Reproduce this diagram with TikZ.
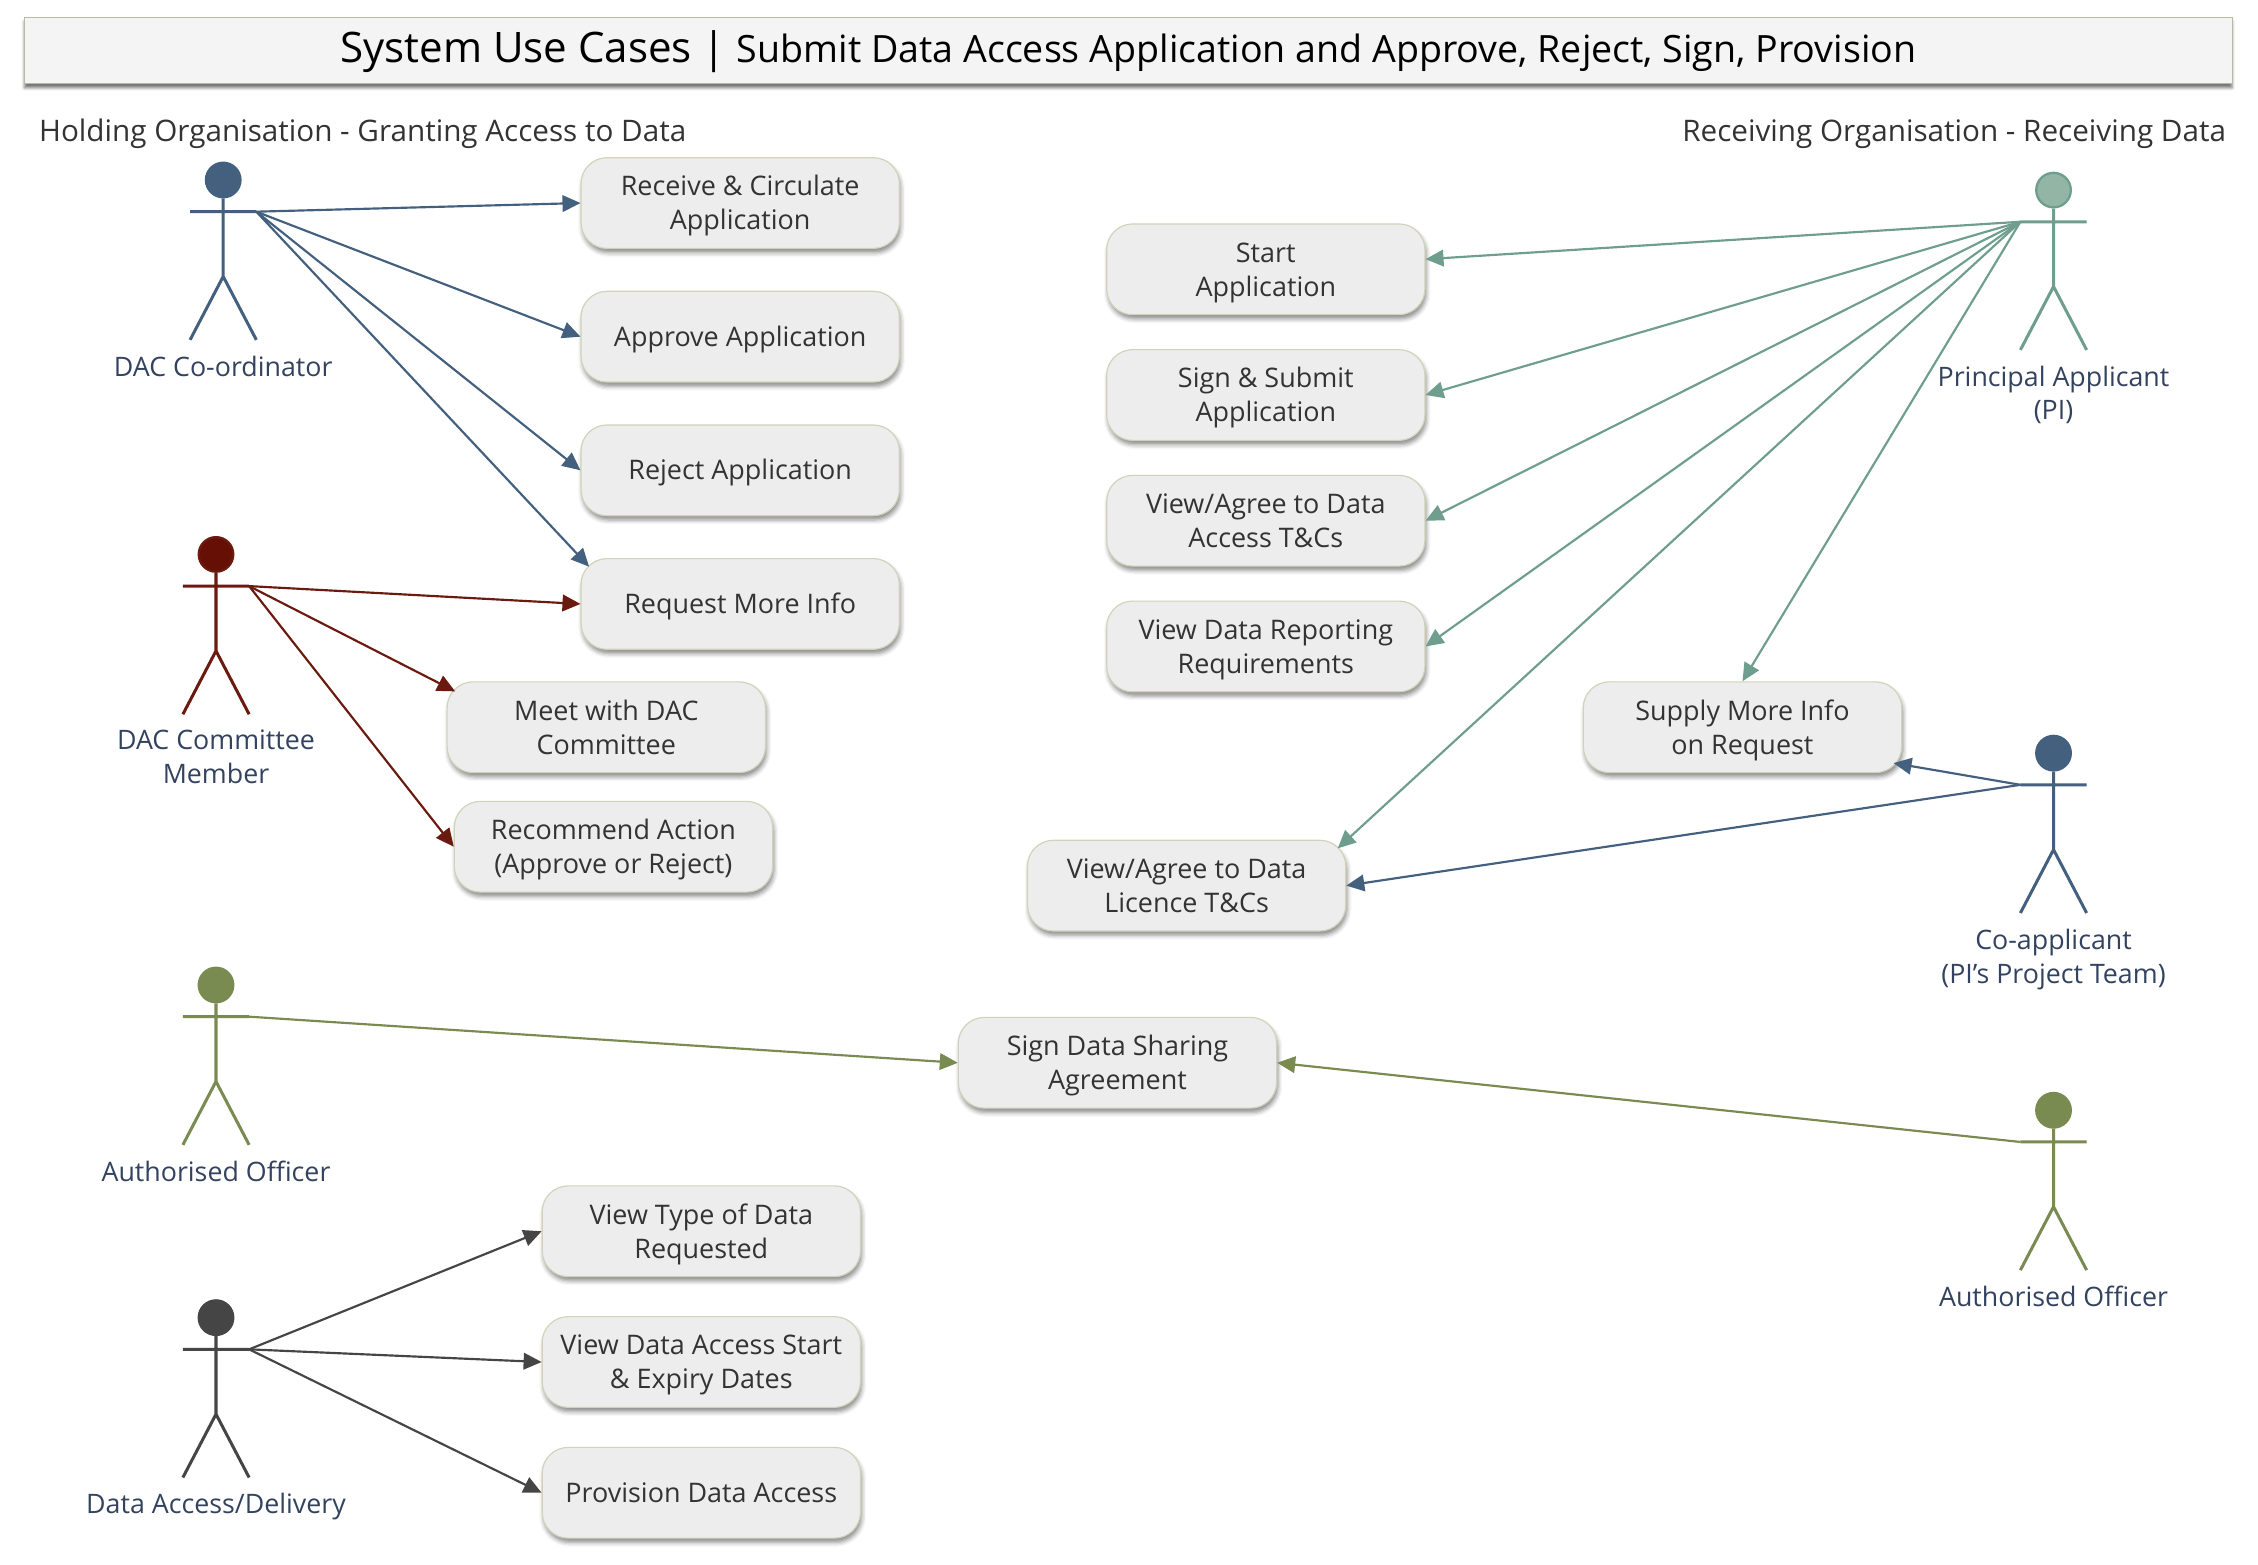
\documentclass[tikz,border=0pt]{standalone}
\usepackage{fontspec}
\setmainfont{Open Sans}
\usetikzlibrary{arrows.meta,positioning,calc,shadows.blur}
\definecolor{coordblue}{HTML}{44607F}
\definecolor{redline}{HTML}{6B1A10}
\definecolor{redhead}{HTML}{660F04}
\definecolor{greenline}{HTML}{6F9E8E}
\definecolor{greenhead}{HTML}{93B5A6}
\definecolor{oliveline}{HTML}{7A8B52}
\definecolor{darkline}{HTML}{454545}
\definecolor{coappblue}{HTML}{44607F}
\definecolor{boxfill}{HTML}{EDEDED}
\definecolor{boxedge}{HTML}{D2D2BA}
\definecolor{actortext}{HTML}{33435F}
\definecolor{boxtext}{HTML}{333333}
\tikzset{
	casebox/.style={
		rectangle,
		rounded corners=18pt,
		draw=boxedge,
		thick,
		fill=boxfill,
		text=boxtext,
		minimum width=221pt,
		minimum height=63pt,
		align=center,
		font=\fontsize{18.7}{23.5}\selectfont,
		execute at end node={\rule[-4.5pt]{0pt}{0pt}},
		blur shadow={shadow xshift=1pt,shadow yshift=-3pt,shadow blur radius=3pt,shadow opacity=45},
	},
	usecase/.style={
		casebox,
		execute at begin node={\rule{0pt}{41.7pt}},
	},
	shortcase/.style={
		casebox,
		execute at begin node={\rule{0pt}{17.5pt}},
	},
	actorlabel/.style={
		text=actortext,
		align=center,
		inner sep=0pt,
		font=\fontsize{18.6}{23.5}\selectfont,
	},
	heading/.style={
		text=boxtext,
		inner sep=0pt,
		font=\fontsize{20.6}{25}\selectfont,
	},
	titlebar/.style={
		rectangle,
		draw=boxedge!70!gray,
		thick,
		fill=boxfill!60!white,
		minimum width=1533pt,
		minimum height=46pt,
		blur shadow={shadow xshift=0pt,shadow yshift=-3pt,shadow blur radius=2pt,shadow opacity=55},
	},
	arc/.style={-{Triangle[length=12.5pt,width=11.5pt]},line width=1.5pt},
	pics/actor/.style 2 args={
		code={
			\node [circle,draw=#1,fill=#2,line width=1.6pt,inner sep=0pt,minimum size=24pt] (-head) at (0,0) {};
			\coordinate (-lhand) at (-23,22);
			\coordinate (-hand) at (23,22);
			\coordinate (-hip) at (0,67);
			\coordinate (-lfoot) at (-23,111);
			\coordinate (-rfoot) at (23,111);
			\coordinate (-feet) at (0,111);
			\draw [#1,line width=2.1pt] (-head) -- (-hip) (-lhand) -- (-hand) (-lfoot) -- (-hip) -- (-rfoot);
		}
	},
}
\begin{document}
\begin{tikzpicture}[x=1pt, y=-1pt, node distance=29pt, >=stealth]
	\useasboundingbox (0,0) rectangle (1568,1086.1);
	% title
	\node [titlebar] (title) at (783.5,35) {};
	\node [text=black, inner sep=0pt] (titletext) at (783.5,36) {\fontsize{29.2}{36}\selectfont System Use Cases | \fontsize{26.1}{36}\selectfont Submit Data Access Application and Approve, Reject, Sign, Provision};
	\node [heading, anchor=west] (holding) at (27,93) {Holding Organisation - Granting Access to Data};
	\node [heading, anchor=east] (receiving) at (1546,93) {Receiving Organisation - Receiving Data};

	% actors
	\pic (coord) at (155,125) {actor={coordblue}{coordblue}};
	\pic (member) at (150,385) {actor={redline}{redhead}};
	\pic (officerA) at (150,684) {actor={oliveline}{oliveline}};
	\pic (delivery) at (150,915) {actor={darkline}{darkline}};
	\pic (pi) at (1426,132) {actor={greenline}{greenhead}};
	\pic (coapp) at (1426,523) {actor={coappblue}{coappblue}};
	\pic (officerB) at (1426,771) {actor={oliveline}{oliveline}};

	\node [actorlabel] (coord-label) [below=10.8pt of coord-feet] {DAC Co-ordinator};
	\node [actorlabel] (member-label) [below=10.8pt of member-feet] {DAC Committee\\Member};
	\node [actorlabel] (officerA-label) [below=10.8pt of officerA-feet] {Authorised Officer};
	\node [actorlabel] (delivery-label) [below=10.8pt of delivery-feet] {Data Access/Delivery};
	\node [actorlabel] (pi-label) [below=10.8pt of pi-feet] {Principal Applicant\\(PI)};
	\node [actorlabel] (coapp-label) [below=10.8pt of coapp-feet] {Co-applicant\\(PI's Project Team)};
	\node [actorlabel] (officerB-label) [below=10.8pt of officerB-feet] {Authorised Officer};

	% use cases
	\node [usecase] (receive) at (514,141) {Receive \& Circulate\\Application};
	\node [shortcase] (approve) [below=of receive] {Approve Application};
	\node [shortcase] (reject) [below=of approve] {Reject Application};
	\node [shortcase] (moreinfo) [below=of reject] {Request More Info};
	\node [usecase] (meet) at (421,505) {Meet with DAC\\Committee};
	\node [usecase] (recommend) at (426,588) {Recommend Action\\(Approve or Reject)};
	\node [usecase] (start) at (879,187) {Start\\Application};
	\node [usecase] (signsubmit) [below=23.5pt of start] {Sign \& Submit\\Application};
	\node [usecase] (accessterms) [below=23.5pt of signsubmit] {View/Agree to Data\\Access T\&Cs};
	\node [usecase] (reporting) [below=23.5pt of accessterms] {View Data Reporting\\Requirements};
	\node [usecase] (supply) at (1210,505) {Supply More Info\\on Request};
	\node [usecase] (licence) at (824,615) {View/Agree to Data\\Licence T\&Cs};
	\node [usecase] (dsa) at (776,738) {Sign Data Sharing\\Agreement};
	\node [usecase] (datatype) at (487,855) {View Type of Data\\Requested};
	\node [usecase] (dates) [below=27pt of datatype] {View Data Access Start\\\& Expiry Dates};
	\node [shortcase] (provision) [below=27pt of dates] {Provision Data Access};

	%arcs
	\path[arc, coordblue] (coord-hand) edge (receive.west);
	\path[arc, coordblue] (coord-hand) edge (approve.west);
	\path[arc, coordblue] (coord-hand) edge (reject.west);
	\path[arc, coordblue] (coord-hand) edge ($(moreinfo.north west)+(6,6)$);
	\path[arc, redline] (member-hand) edge (moreinfo.west);
	\path[arc, redline] (member-hand) edge ($(meet.north west)+(6,7)$);
	\path[arc, redline] (member-hand) edge (recommend.west);
	\path[arc, greenline] (pi-lhand) edge (start.east |- 0,180);
	\path[arc, greenline] (pi-lhand) edge (signsubmit.east);
	\path[arc, greenline] (pi-lhand) edge (accessterms.east);
	\path[arc, greenline] (pi-lhand) edge (reporting.east);
	\path[arc, greenline] (pi-lhand) edge (supply.north);
	\path[arc, greenline] (pi-lhand) edge ($(licence.north east)+(-6,6)$);
	\path[arc, coappblue] (coapp-lhand) edge ($(supply.south east)+(-6,-7)$);
	\path[arc, coappblue] (coapp-lhand) edge (licence.east);
	\path[arc, oliveline] (officerA-hand) edge (dsa.west);
	\path[arc, oliveline] (officerB-lhand) edge (dsa.east);
	\path[arc, darkline] (delivery-hand) edge (datatype.west);
	\path[arc, darkline] (delivery-hand) edge (dates.west);
	\path[arc, darkline] (delivery-hand) edge (provision.west);
\end{tikzpicture}
\end{document}
